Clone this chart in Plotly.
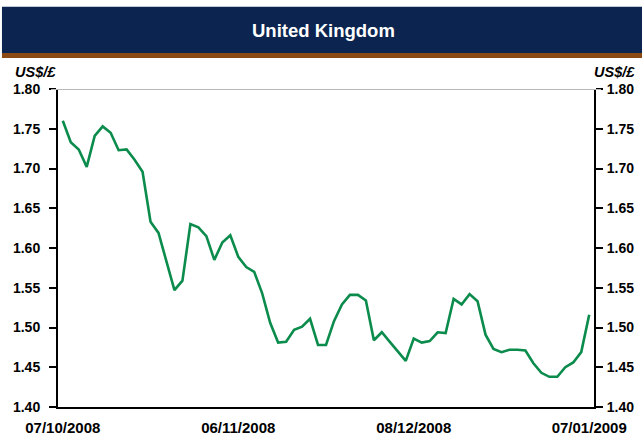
import plotly.graph_objects as go

# ---- data ----
tick_labels = ["07/10/2008", "06/11/2008", "08/12/2008", "07/01/2009"]
tick_index = [0, 22, 44, 66]
usd_per_gbp = [
    1.760, 1.733, 1.724, 1.702, 1.741, 1.753, 1.745, 1.723, 1.724, 1.711,
    1.696, 1.633, 1.619, 1.584, 1.547, 1.559, 1.630, 1.626, 1.615, 1.585,
    1.607, 1.616, 1.589, 1.576, 1.570, 1.543, 1.506, 1.481, 1.482, 1.497,
    1.501, 1.511, 1.478, 1.478, 1.508, 1.529, 1.541, 1.541, 1.534, 1.484,
    1.494, 1.482, 1.470, 1.458, 1.486, 1.481, 1.483, 1.494, 1.493, 1.536,
    1.529, 1.542, 1.533, 1.491, 1.473, 1.469, 1.472, 1.472, 1.471, 1.455,
    1.443, 1.438, 1.438, 1.450, 1.456, 1.469, 1.516,
]
x_idx = list(range(len(usd_per_gbp)))

W, H = 642, 440
L, R, T, B = 58, 593.6, 88.5, 407.5
PW, PH = R - L, B - T

def px(x):
    return (x - L) / PW

def py(y):
    return (B - y) / PH

NAVY = "#0B2550"
BROWN = "#8B4A14"
GREEN = "#0B8C4C"
FONT = "Liberation Sans, Arial, sans-serif"

fig = go.Figure()
fig.add_trace(go.Scatter(x=x_idx, y=usd_per_gbp, mode="lines",
                         line=dict(color=GREEN, width=2.6), hoverinfo="skip",
                         showlegend=False))
fig.add_trace(go.Scatter(x=x_idx, y=usd_per_gbp, mode="lines", yaxis="y2",
                         line=dict(color="rgba(0,0,0,0)", width=0), hoverinfo="skip",
                         showlegend=False))

yax = dict(range=[1.40, 1.80], dtick=0.05, tick0=1.40, tickformat=".2f",
           showgrid=False, zeroline=False, showline=True, linecolor="black",
           linewidth=2, ticks="outside", ticklen=7, tickwidth=1.5,
           tickcolor="black", automargin=False,
           tickfont=dict(family=FONT, size=14, color="black", weight="bold"))

fig.update_layout(
    width=W, height=H,
    margin=dict(l=L, r=W - R, t=T, b=H - B, pad=0, autoexpand=False),
    paper_bgcolor="white", plot_bgcolor="white",
    xaxis=dict(range=[-0.6, 66.6], tickvals=tick_index, ticktext=tick_labels,
               showgrid=False, zeroline=False, showline=True, linecolor="black",
               linewidth=2, ticks="", ticklabelstandoff=6, automargin=False,
               tickfont=dict(family=FONT, size=15, color="black", weight="bold")),
    yaxis=dict(**yax, side="left", ticklabelstandoff=6),
    yaxis2=dict(**yax, side="right", overlaying="y", ticklabelstandoff=1),
    shapes=[
        dict(type="rect", xref="paper", yref="paper", x0=px(2), x1=px(642),
             y0=py(52.5), y1=py(6), fillcolor=NAVY, line=dict(width=0), layer="above"),
        dict(type="rect", xref="paper", yref="paper", x0=px(2), x1=px(642),
             y0=py(57.5), y1=py(52.5), fillcolor=BROWN, line=dict(width=0), layer="above"),
        dict(type="line", xref="paper", yref="y", x0=px(51), x1=px(600.6),
             y0=1.80, y1=1.80, line=dict(color="#B8B8B8", width=2), layer="above"),
    ],
    annotations=[
        dict(text="United Kingdom", xref="paper", yref="paper", x=px(323), y=py(30),
             xanchor="center", yanchor="middle", showarrow=False,
             font=dict(family=FONT, size=18.5, color="white", weight="bold")),
        dict(text="<i>US$/£</i>", xref="paper", yref="paper", x=px(13), y=py(71),
             xanchor="left", yanchor="middle", showarrow=False,
             font=dict(family=FONT, size=14.5, color="black", weight="bold")),
        dict(text="<i>US$/£</i>", xref="paper", yref="paper", x=px(637), y=py(71),
             xanchor="right", yanchor="middle", showarrow=False,
             font=dict(family=FONT, size=14.5, color="black", weight="bold")),
    ],
)

fig.write_html("out.html", config={"displayModeBar": False, "responsive": False},
               post_script="document.body.style.margin='0';document.body.style.padding='0';")
